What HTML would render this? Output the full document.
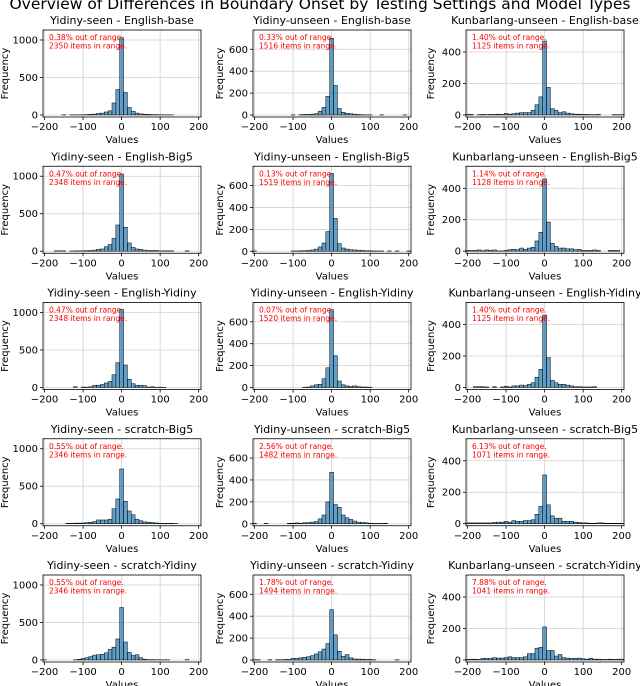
<!DOCTYPE html>
<html><head><meta charset="utf-8">
<style>
html,body{margin:0;padding:0;background:#fff;}
svg{display:block;font-family:"DejaVu Sans","Liberation Sans",sans-serif;}
</style></head>
<body>
<svg id="fig" width="640" height="686" viewBox="0 0 640 686" xmlns="http://www.w3.org/2000/svg">
<text x="320" y="9" font-size="15.5" text-anchor="middle" fill="#000">Overview of Differences in Boundary Onset by Testing Settings and Model Types</text>
</svg>
<script>
// bin centers: -200..200 step 10
const binCenters = [-200,-190,-180,-170,-160,-150,-140,-130,-120,-110,-100,-90,-80,-70,-60,-50,-40,-30,-20,-10,0,10,20,30,40,50,60,70,80,90,100,110,120,130,140,150,160,170,180,190,200];
const titles = [
 "Yidiny-seen - English-base","Yidiny-unseen - English-base","Kunbarlang-unseen - English-base",
 "Yidiny-seen - English-Big5","Yidiny-unseen - English-Big5","Kunbarlang-unseen - English-Big5",
 "Yidiny-seen - English-Yidiny","Yidiny-unseen - English-Yidiny","Kunbarlang-unseen - English-Yidiny",
 "Yidiny-seen - scratch-Big5","Yidiny-unseen - scratch-Big5","Kunbarlang-unseen - scratch-Big5",
 "Yidiny-seen - scratch-Yidiny","Yidiny-unseen - scratch-Yidiny","Kunbarlang-unseen - scratch-Yidiny"];
const outPct = ["0.38%","0.33%","1.40%","0.47%","0.13%","1.14%","0.47%","0.07%","1.40%","0.55%","2.56%","6.13%","0.55%","1.78%","7.88%"];
const inCount = ["2350","1516","1125","2348","1519","1128","2348","1520","1125","2346","1482","1071","2346","1494","1041"];
const s0 = [0,0,0,0,0,3,0,2,3,2, 3,5,8,12,20,25,40,55,160,340, 1030, 300,100,50,25,15,10,8,5,5,3, 3,2,2,0,0,0,0,0,0,0];
const s1 = [0,0,0,0,0,0,0,0,0,0, 2,0,3,5,5,8,12,35,70,170, 700, 270,60,25,15,12,8,5,3,2,2, 0,0,2,0,0,0,0,0,2,0];
const s2 = [3,3,0,2,3,2,3,3,5,3, 10,5,8,12,15,15,15,30,65,115, 470, 175,40,30,15,20,12,8,5,5,3, 3,2,2,3,0,0,0,2,2,2];
const s3 = [0,0,0,5,5,5,0,3,5,5, 5,8,10,15,25,30,60,90,170,350, 1030, 320,110,50,30,25,15,10,10,10,5, 5,5,5,0,0,0,5,0,0,0];
const s4 = [3,0,0,0,0,0,0,0,0,0, 3,3,5,5,8,12,20,40,75,180, 710, 300,70,30,20,15,12,10,8,5,5, 3,3,3,0,3,0,3,0,0,3];
const s5 = [5,5,5,8,3,8,5,8,2,2, 5,10,12,10,20,12,20,25,65,120, 460, 185,50,30,20,20,15,15,10,12,5, 5,5,8,5,0,0,5,5,5,0];
const s6 = [0,0,0,0,0,0,0,0,10,0, 5,5,10,30,30,40,60,80,170,330, 1040, 300,110,50,30,30,25,5,10,3,5, 3,0,0,0,0,0,0,0,0,0];
const s7 = [0,0,0,0,0,0,0,0,0,0, 0,0,0,3,5,15,25,30,80,180, 710, 290,60,25,15,10,15,8,5,5,3, 0,0,0,0,0,0,0,0,0,0];
const s8 = [0,0,5,5,5,3,0,5,0,3, 8,3,10,10,15,12,20,30,65,115, 460, 190,45,30,20,20,15,10,5,5,3, 3,3,5,0,0,0,0,0,0,0];
const s9 = [0,0,0,0,0,0,5,5,8,8, 10,15,20,30,50,50,50,60,200,330, 730, 300,170,120,60,40,25,20,15,10,5, 5,5,5,3,0,0,0,0,0,0];
const s10 = [3,0,0,3,0,0,0,0,0,5, 5,8,5,10,10,15,20,45,80,200, 470, 175,150,80,55,40,25,15,12,10,5, 3,3,3,5,0,0,0,0,0,0];
const s11 = [5,5,5,5,5,5,5,8,10,10, 15,10,20,15,15,20,20,25,60,110, 310, 120,50,35,35,15,15,15,10,8,5, 5,3,3,5,5,3,3,3,3,3];
const s12 = [3,0,0,0,0,0,0,0,3,10, 20,30,45,65,70,75,95,140,170,280, 700, 240,100,60,70,30,10,5,5,3,3, 3,3,0,0,0,0,5,0,0,0];
const s13 = [3,3,0,0,3,0,3,3,5,5, 15,15,20,25,30,40,55,75,100,150, 460, 230,80,35,50,20,10,8,8,5,5, 3,0,0,0,0,0,3,0,0,0];
const s14 = [3,5,5,3,10,10,10,15,12,12, 15,20,15,15,15,20,40,40,75,80, 210, 60,60,25,35,15,12,10,10,12,8, 5,10,5,5,3,3,5,3,5,5];
const seriesList = [s0,s1,s2,s3,s4,s5,s6,s7,s8,s9,s10,s11,s12,s13,s14];
const xTicks = [-200,-100,0,100,200];
const yTicksCol = [[0,500,1000],[0,200,400,600],[0,200,400]];
const yMaxCol = [1133,776,540];
const yMinCol = [-27,-18,-13];

const NS="http://www.w3.org/2000/svg";
const svg=document.getElementById('fig');
function mk(tag,attrs,parent){const e=document.createElementNS(NS,tag);for(const k in attrs)e.setAttribute(k,attrs[k]);(parent||svg).appendChild(e);return e;}
const axLeft=[43,253,466], axW=158, axH=87, rowTop0=30, rowStep=136.25;
const ylabX=[8,223,434];
const xMin=-204, xMax=206;

for(let i=0;i<15;i++){
  const r=Math.floor(i/3), c=i%3;
  const L=axLeft[c], T=rowTop0+r*rowStep, B=T+axH;
  const ymin=yMinCol[c], ymax=yMaxCol[c];
  const xs=v=>L+(v-xMin)/(xMax-xMin)*axW;
  const ys=v=>B-(v-ymin)/(ymax-ymin)*axH;
  const g=mk('g',{});
  
  
  const t=mk('text',{x:L+axW/2,y:T-6,'font-size':11,'text-anchor':'middle',fill:'#000'},g);
  
  
  t.textContent=titles[i];
  // grid
  xTicks.forEach(v=>{const l=mk('line',{x1:xs(v),x2:xs(v),y1:T,y2:B,stroke:'#d0d0d0','stroke-width':0.8},g);
    
    });
  yTicksCol[c].forEach(v=>{const l=mk('line',{x1:L,x2:L+axW,y1:ys(v),y2:ys(v),stroke:'#d0d0d0','stroke-width':0.8},g);
    
    });
  // bars
  const data=seriesList[i];
  data.forEach((v,k)=>{ if(v<=0) return;
    const x0=xs(binCenters[k]-5), x1=xs(binCenters[k]+5);
    const b=mk('rect',{x:x0,y:ys(v),width:x1-x0,height:ys(0)-ys(v),fill:'#1f77b4','fill-opacity':0.7,stroke:'#000','stroke-width':0.5},g);
    
    
  });
  // frame
  const f=mk('rect',{x:L,y:T,width:axW,height:axH,fill:'none',stroke:'#000','stroke-width':0.8},g);
  
  
  // x ticks
  xTicks.forEach(v=>{
    mk('line',{x1:xs(v),x2:xs(v),y1:B,y2:B+3,stroke:'#000','stroke-width':0.8},g);
    const tl=mk('text',{x:xs(v),y:B+13,'font-size':10,'text-anchor':'middle',fill:'#000'},g);
    
    
    tl.textContent=(v<0?'\u2212'+(-v):''+v);
  });
  yTicksCol[c].forEach(v=>{
    mk('line',{x1:L-3,x2:L,y1:ys(v),y2:ys(v),stroke:'#000','stroke-width':0.8},g);
    const tl=mk('text',{x:L-5,y:ys(v)+3.5,'font-size':10,'text-anchor':'end',fill:'#000'},g);
    
    
    tl.textContent=''+v;
  });
  const xl=mk('text',{x:L+axW/2,y:B+26,'font-size':10,'text-anchor':'middle',fill:'#000'},g);
  
  
  xl.textContent='Values';
  const yx=ylabX[c], yy=T+axH/2;
  const yl=mk('text',{x:yx,y:yy,'font-size':10,'text-anchor':'middle',fill:'#000',transform:'rotate(-90 '+yx+' '+yy+')'},g);
  
  
  yl.textContent='Frequency';
  const a1=mk('text',{x:L+6,y:T+10,'font-size':7.5,fill:'#ff0000'},g);
  
  
  a1.textContent=outPct[i]+' out of range.';
  const a2=mk('text',{x:L+6,y:T+18.5,'font-size':7.5,fill:'#ff0000'},g);
  
  
  a2.textContent=inCount[i]+' items in range.';
}
</script>
</body></html>
